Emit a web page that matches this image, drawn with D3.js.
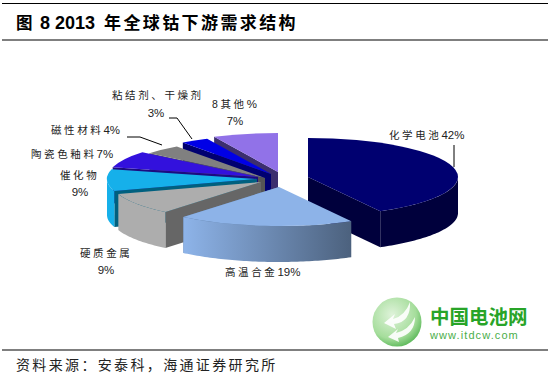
<!DOCTYPE html>
<html>
<head>
<meta charset="utf-8">
<script src="https://cdn.jsdelivr.net/npm/d3@7"></script>
<style>
  html, body { margin: 0; padding: 0; background: #fff; }
  text { font-family: "Liberation Sans", "Noto Sans CJK SC", sans-serif; fill: #222; }
</style>
</head>
<body>
<div id="chart"></div>
<script>
const categories = ["化学电池", "高温合金", "硬质金属", "催化物", "陶瓷色釉料", "磁性材料", "粘结剂、干燥剂", "8其他"];
const shares = [42, 19, 9, 9, 7, 4, 3, 7];
const sourceText = "资料来源：安泰科，海通证券研究所";

const width = 550;
const height = 381;

// pie shape
const rx = 150;
const ry = 39;
const depth = 36;
const cx = 275;
const cy = 179;

// slice colours: top, radial wall, outer wall
const topColors = ["#000070", "#8db3e8", "#adadad", "#16b0ea", "#3311dd", "#808080", "#0000e6", "#9172e8"];
const wallColors = ["#00003c", "#5f7ea6", "#666666", "#00607f", "#1c0c80", "#555555", "#000070", "#3c2e6e"];
const rimColors = ["#00003c", "url(#rimBlue)", "#adadad", "#16b0ea", "#1c0c80", "#555555", "#000070", "#3c2e6e"];

// how far each slice is pulled out of the pie, in px
const pulled = [[33, -2], [4, 8], [-14, 3], [-18, 0], [-17, -2], [-10, -1], [-4, -5], [3, -7]];

// back to front
const drawOrder = [7, 6, 5, 4, 3, 2, 0, 1];

const svg = d3.select("#chart").append("svg")
  .attr("width", width)
  .attr("height", height)
  .style("display", "block");

const defs = svg.append("defs");

const rimBlue = defs.append("linearGradient")
  .attr("id", "rimBlue")
  .attr("gradientUnits", "userSpaceOnUse")
  .attr("x1", 185 - cx - pulled[1][0]).attr("x2", 354 - cx - pulled[1][0])
  .attr("y1", 0).attr("y2", 0);
rimBlue.append("stop").attr("offset", 0).attr("stop-color", "#8db3e8");
rimBlue.append("stop").attr("offset", 1).attr("stop-color", "#4b607c");

const globeFill = defs.append("radialGradient")
  .attr("id", "globeFill")
  .attr("cx", 0.4).attr("cy", 0.35).attr("r", 0.75);
globeFill.append("stop").attr("offset", 0).attr("stop-color", "#dff3da");
globeFill.append("stop").attr("offset", 0.65).attr("stop-color", "#a5dd9b");
globeFill.append("stop").attr("offset", 1).attr("stop-color", "#45ad45");

// header + footer rules
[3.5, 40, 350].forEach((y) => {
  svg.append("line")
    .attr("x1", 2).attr("x2", 548)
    .attr("y1", y).attr("y2", y)
    .attr("stroke", "#000")
    .attr("stroke-width", 1.2);
});

const title = svg.append("text")
  .attr("y", 29)
  .style("font-weight", "bold")
  .style("fill", "#000");
title.append("tspan").attr("x", 16).style("font-size", "16.5px").text("图");
title.append("tspan").attr("x", 40).style("font-size", "18px").text("8 2013");
title.append("tspan").attr("x", 104).style("font-size", "17px").style("letter-spacing", "2.4px").text("年全球钴下游需求结构");

// pie
const slices = d3.pie().sort(null)(shares);
const wedge = d3.arc().innerRadius(0).outerRadius(1);
const onRim = (a) => [rx * Math.sin(a), -ry * Math.cos(a)];

const pieG = svg.append("g").attr("transform", `translate(${cx},${cy})`);

drawOrder.forEach((i) => {
  const s = slices[i];
  const g = pieG.append("g").attr("transform", `translate(${pulled[i][0]},${pulled[i][1]})`);

  // radial wall that faces the viewer
  const wallAngle = s.startAngle >= Math.PI ? s.startAngle : s.endAngle;
  const edge = onRim(wallAngle);
  g.append("path")
    .attr("d", d3.line()([[0, 0], edge, [edge[0], edge[1] + depth], [0, depth]]) + "Z")
    .attr("fill", wallColors[i]);

  // outer wall, front half only
  const a0 = Math.max(s.startAngle, Math.PI / 2);
  const a1 = Math.min(s.endAngle, Math.PI * 1.5);
  if (a1 > a0) {
    const steps = d3.range(a0, a1, 0.02).concat([a1]);
    g.append("path")
      .attr("d", d3.area()
        .x((a) => onRim(a)[0])
        .y0((a) => onRim(a)[1])
        .y1((a) => onRim(a)[1] + depth)(steps))
      .attr("fill", rimColors[i]);
  }

  // top face
  g.append("path")
    .attr("transform", `scale(${rx},${ry})`)
    .attr("d", wedge(s))
    .attr("fill", topColors[i]);
});

// leader lines
const leaders = [
  [[454, 145], [454, 167]],
  [[169, 118], [177, 118], [192, 139]],
  [[127, 137], [140, 137], [162, 145]],
];
leaders.forEach((pts) => {
  svg.append("path")
    .attr("d", d3.line()(pts))
    .attr("fill", "none")
    .attr("stroke", "#000")
    .attr("stroke-width", 1);
});

// labels, the name spaced out like the original
function label(x, y, name, tail) {
  const t = svg.append("text").attr("x", x).attr("y", y).style("font-size", "11.5px");
  t.append("tspan").style("letter-spacing", "2.6px").style("font-size", "10.5px").text(name);
  if (tail) t.append("tspan").text(tail);
}
function pct(x, y, value) {
  svg.append("text")
    .attr("x", x).attr("y", y)
    .attr("text-anchor", "middle")
    .style("font-size", "11.5px")
    .text(value + "%");
}

label(389, 139, categories[0], shares[0] + "%");
label(225, 276, categories[1], shares[1] + "%");
label(80, 257, categories[2]);
pct(106, 274, shares[2]);
label(60, 179, categories[3]);
pct(80, 196, shares[3]);
label(31, 158, categories[4], shares[4] + "%");
label(51, 134, categories[5], shares[5] + "%");
label(112, 99, categories[6]);
pct(156, 117, shares[6]);
label(212, 108, categories[7], "%");
pct(235, 125, shares[7]);

// source
svg.append("text")
  .attr("x", 16).attr("y", 370)
  .style("font-size", "14px")
  .style("letter-spacing", "2.35px")
  .text(sourceText);

// watermark logo
const logo = svg.append("g").attr("transform", "translate(397,322)");
logo.append("circle").attr("r", 24.5).attr("fill", "url(#globeFill)");
["M13,-20Q8,-6 -4,-3L-2,-8L-13,1L-1,7L-3,2Q14,0 13,-20Z",
 "M18,-5Q12,8 -1,11L1,7L-9,15L2,20L1,16Q18,12 18,-5Z"].forEach((d) => {
  logo.append("path").attr("d", d).attr("fill", "#fff").attr("opacity", 0.9);
});

svg.append("text")
  .attr("x", 430).attr("y", 324)
  .style("font-size", "19.5px")
  .style("font-weight", "bold")
  .style("fill", "#28a428")
  .text("中国电池网");
svg.append("text")
  .attr("x", 430).attr("y", 339)
  .style("font-size", "11px")
  .style("letter-spacing", "1.1px")
  .style("fill", "#4aae4a")
  .text("www.itdcw.com");
</script>
</body>
</html>
